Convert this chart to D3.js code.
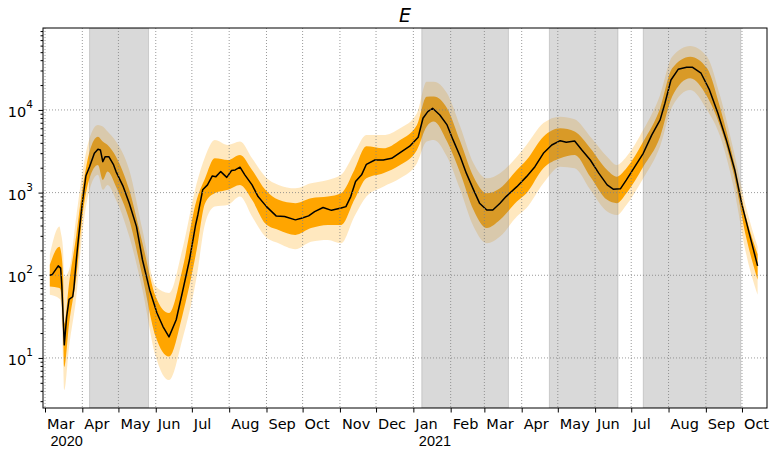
<!DOCTYPE html>
<html>
<head>
<meta charset="utf-8">
<script src="https://cdn.jsdelivr.net/npm/d3@7"></script>
<style>
  body { margin: 0; background: #fff; }
  svg { font-family: "DejaVu Sans", sans-serif; }
</style>
</head>
<body>
<svg id="chart" width="774" height="455"></svg>
<script>
// median estimate
const medDates = ["2020-03-05","2020-03-07","2020-03-10","2020-03-12","2020-03-14","2020-03-15","2020-03-17","2020-03-19","2020-03-21","2020-03-24","2020-03-25","2020-03-27","2020-03-29","2020-04-01","2020-04-04","2020-04-07","2020-04-11","2020-04-14","2020-04-16","2020-04-18","2020-04-20","2020-04-23","2020-04-27","2020-04-29","2020-05-05","2020-05-10","2020-05-16","2020-05-21","2020-05-27","2020-06-02","2020-06-07","2020-06-12","2020-06-18","2020-06-23","2020-06-29","2020-07-04","2020-07-06","2020-07-10","2020-07-14","2020-07-18","2020-07-21","2020-07-25","2020-07-30","2020-08-03","2020-08-06","2020-08-10","2020-08-14","2020-08-20","2020-08-25","2020-09-01","2020-09-09","2020-09-16","2020-09-25","2020-09-30","2020-10-06","2020-10-11","2020-10-18","2020-10-25","2020-11-02","2020-11-06","2020-11-10","2020-11-14","2020-11-19","2020-11-23","2020-11-30","2020-12-07","2020-12-14","2020-12-21","2020-12-29","2021-01-05","2021-01-09","2021-01-13","2021-01-17","2021-01-23","2021-01-29","2021-02-03","2021-02-09","2021-02-14","2021-02-20","2021-02-25","2021-03-03","2021-03-08","2021-03-14","2021-03-19","2021-03-28","2021-04-05","2021-04-12","2021-04-19","2021-04-26","2021-05-03","2021-05-08","2021-05-15","2021-05-21","2021-05-28","2021-06-04","2021-06-11","2021-06-16","2021-06-22","2021-06-27","2021-07-04","2021-07-11","2021-07-18","2021-07-25","2021-07-29","2021-08-03","2021-08-09","2021-08-16","2021-08-21","2021-08-28","2021-09-04","2021-09-11","2021-09-18","2021-09-25","2021-10-01","2021-10-07","2021-10-14"];
const medValues = [100,102,118,130,122,73,14.4,31.6,51,55,70,153,300,750,1600,2060,2990,3350,3280,2370,2720,2720,2160,1795,1180,745,388,153,66,35,24,18,29,61,153,400,540,1080,1240,1590,1560,1795,1530,1850,1880,2030,1640,1240,895,677,523,513,468,490,523,589,660,610,650,677,895,1360,1640,2200,2480,2480,2600,3050,3640,4680,7940,9530,10480,8700,6590,4340,2720,1720,1080,745,617,617,745,895,1180,1560,2060,2990,3770,4250,4060,4220,3280,2480,1720,1240,1100,1110,1425,2060,2990,4960,7590,12050,23000,31000,32800,32800,27800,17450,9120,4340,1880,710,323,130];

// credible bands
const bandDates = ["2020-03-05","2020-03-13","2020-03-14","2020-03-16","2020-03-17","2020-03-21","2020-03-27","2020-04-01","2020-04-07","2020-04-14","2020-04-18","2020-04-22","2020-04-29","2020-05-10","2020-05-21","2020-06-01","2020-06-12","2020-06-23","2020-07-05","2020-07-12","2020-07-20","2020-07-31","2020-08-10","2020-08-20","2020-08-31","2020-09-11","2020-09-25","2020-10-08","2020-10-22","2020-11-02","2020-11-13","2020-11-23","2020-12-07","2020-12-21","2021-01-04","2021-01-12","2021-01-18","2021-01-29","2021-02-09","2021-02-20","2021-03-03","2021-03-14","2021-03-28","2021-04-05","2021-04-19","2021-05-03","2021-05-15","2021-05-28","2021-06-11","2021-06-19","2021-06-27","2021-07-11","2021-07-25","2021-08-04","2021-08-19","2021-09-02","2021-09-13","2021-09-24","2021-10-05","2021-10-14"];
const hi95 = [176,388,335,203,96,116,513,1718,4550,6590,6300,5470,4140,1880,354,73,61,203,1300,2720,4340,3770,4140,2600,1560,1240,1130,1300,1425,1640,2990,4960,4960,6000,9120,22000,22000,15900,6280,2270,1490,1718,2720,3770,6930,8300,7690,4750,2720,2160,2720,5740,15200,44100,59400,44100,14500,3280,617,222];
const hi50 = [134,222,203,101,26,80,305,1080,3130,4750,4140,3770,2720,1080,244,55,35,116,817,1490,2600,2480,2860,1880,1080,817,745,855,895,983,1880,3640,3440,4340,6590,14490,14500,10480,4140,1560,983,1130,1880,2480,4750,6000,5470,3440,1880,1560,1970,4140,10480,31900,44100,31900,10480,2480,468,180];
const lo50 = [73,70,66,22,7.8,26,96,513,1490,2160,1425,1795,1180,468,96,18,10.4,32,203,745,983,1080,1240,817,424,354,308,372,406,406,817,1490,1718,2160,3280,6280,7240,4140,1718,617,372,468,780,983,1970,2600,2860,1560,817,745,983,2060,4750,14500,24200,14500,6280,1718,268,88];
const lo95 = [58,52,50,10,4.1,13.7,55,323,1080,1640,1080,1240,817,294,66,10.4,5.4,16.5,96,424,677,710,895,513,294,244,207,255,268,244,513,895,1180,1490,2270,4140,4340,2720,1080,388,244,294,513,650,1300,2060,1970,1080,589,535,710,1490,3640,10960,17450,10000,4750,1180,168,58];

// shaded periods
const spanStarts = ["2020-04-07","2021-01-08","2021-04-24","2021-07-11"];
const spanEnds   = ["2020-05-26","2021-03-21","2021-06-20","2021-09-30"];

const yMajor = [10, 100, 1000, 10000];
const yearLabels = { "2020-03": "2020", "2021-01": "2021" };

const parse = d3.utcParse("%Y-%m-%d");
const W = 774, H = 455;
const m = { left: 43, right: 7, top: 28, bottom: 47 };

const svg = d3.select("#chart");

const x = d3.scaleUtc()
  .domain([new Date(Date.UTC(2020, 1, 28, 8)), new Date(Date.UTC(2021, 9, 21, 19))])
  .range([m.left, W - m.right]);
const y = d3.scaleLog()
  .domain([2.48, 98000])
  .range([H - m.bottom, m.top]);

const med = medDates.map((d, i) => ({ date: parse(d), v: medValues[i] }));
const band = bandDates.map((d, i) => ({
  date: parse(d), h95: hi95[i], h50: hi50[i], l50: lo50[i], l95: lo95[i]
}));

const defs = svg.append("defs");
defs.append("clipPath").attr("id", "clip")
  .append("rect")
  .attr("x", m.left).attr("y", m.top)
  .attr("width", W - m.left - m.right).attr("height", H - m.top - m.bottom);

const plot = svg.append("g").attr("clip-path", "url(#clip)");

const outer = d3.area()
  .x(d => x(d.date)).y0(d => y(d.l95)).y1(d => y(d.h95))
  .curve(d3.curveMonotoneX);
const inner = d3.area()
  .x(d => x(d.date)).y0(d => y(d.l50)).y1(d => y(d.h50))
  .curve(d3.curveMonotoneX);

plot.append("path").datum(band)
  .attr("d", outer)
  .attr("fill", "#ffa500").attr("fill-opacity", 0.25);
plot.append("path").datum(band)
  .attr("d", inner)
  .attr("fill", "#ffa500");

// gray periods on top of the bands
plot.selectAll("rect.span")
  .data(spanStarts.map((s, i) => [parse(s), parse(spanEnds[i])]))
  .enter().append("rect")
  .attr("class", "span")
  .attr("x", d => x(d[0]))
  .attr("width", d => x(d[1]) - x(d[0]))
  .attr("y", m.top)
  .attr("height", H - m.top - m.bottom)
  .attr("fill", "#808080").attr("fill-opacity", 0.3)
  .attr("stroke", "#808080").attr("stroke-opacity", 0.3);

// grid
const months = d3.utcMonth.range(x.domain()[0], x.domain()[1]);
const grid = svg.append("g")
  .attr("stroke", "#808080").attr("stroke-width", 0.8)
  .attr("stroke-dasharray", "1,2");
grid.selectAll("line.v").data(months).enter().append("line")
  .attr("x1", d => x(d)).attr("x2", d => x(d))
  .attr("y1", m.top).attr("y2", H - m.bottom);
grid.selectAll("line.h").data(yMajor).enter().append("line")
  .attr("x1", m.left).attr("x2", W - m.right)
  .attr("y1", d => y(d)).attr("y2", d => y(d));

// median line
plot.append("path").datum(med)
  .attr("d", d3.line().x(d => x(d.date)).y(d => y(d.v)))
  .attr("fill", "none")
  .attr("stroke", "#000")
  .attr("stroke-width", 1.5)
  .attr("stroke-linejoin", "round");

// x axis
const fmtKey = d3.utcFormat("%Y-%m");
const xAxis = svg.append("g")
  .attr("transform", `translate(0,${H - m.bottom})`)
  .call(d3.axisBottom(x).tickValues(months).tickFormat(d3.utcFormat("%b"))
    .tickSize(4.5).tickSizeOuter(0));
xAxis.select(".domain").remove();
xAxis.selectAll(".tick line").attr("stroke", "#000");
xAxis.selectAll(".tick text")
  .attr("text-anchor", "start")
  .attr("x", 1.5).attr("y", 0).attr("dy", null)
  .attr("transform", "translate(0,21)")
  .attr("font-size", 14.5).attr("font-family", "DejaVu Sans").attr("fill", "#000");
xAxis.selectAll(".tick").each(function(d) {
  const lab = yearLabels[fmtKey(d)];
  if (lab) {
    d3.select(this).append("text")
      .attr("x", 5).attr("y", 38)
      .attr("text-anchor", "start")
      .attr("font-size", 14.5).attr("fill", "#000")
      .text(lab);
  }
});

// y axis: major and minor ticks
const yMinor = [];
for (let k = 0; k <= 4; k++) {
  for (let j = 2; j <= 9; j++) {
    const v = j * Math.pow(10, k);
    if (v > y.domain()[0] && v < y.domain()[1]) yMinor.push(v);
  }
}
const yAxis = svg.append("g").attr("transform", `translate(${m.left},0)`);
yAxis.call(d3.axisLeft(y).tickValues(yMajor).tickFormat("").tickSize(4.5).tickSizeOuter(0));
yAxis.append("g").call(d3.axisLeft(y).tickValues(yMinor).tickFormat("").tickSize(2.5).tickSizeOuter(0))
  .select(".domain").remove();
yAxis.selectAll(".domain").remove();
yAxis.selectAll(".tick line").attr("stroke", "#000");

const yLab = svg.append("g").attr("font-size", 14.5).attr("fill", "#000");
yMajor.forEach(v => {
  const t = yLab.append("text")
    .attr("x", m.left - 10).attr("y", y(v) + 7)
    .attr("text-anchor", "end");
  t.append("tspan").text("10");
  t.append("tspan").attr("font-size", 10.5).attr("dy", -9).text(Math.round(Math.log10(v)));
});

// frame
svg.append("rect")
  .attr("x", m.left).attr("y", m.top)
  .attr("width", W - m.left - m.right).attr("height", H - m.top - m.bottom)
  .attr("fill", "none").attr("stroke", "#000").attr("stroke-width", 1);

// title
svg.append("text")
  .attr("x", (m.left + W - m.right) / 2).attr("y", 22)
  .attr("text-anchor", "middle")
  .attr("font-size", 19).attr("font-style", "italic")
  .text("E");
</script>
</body>
</html>
